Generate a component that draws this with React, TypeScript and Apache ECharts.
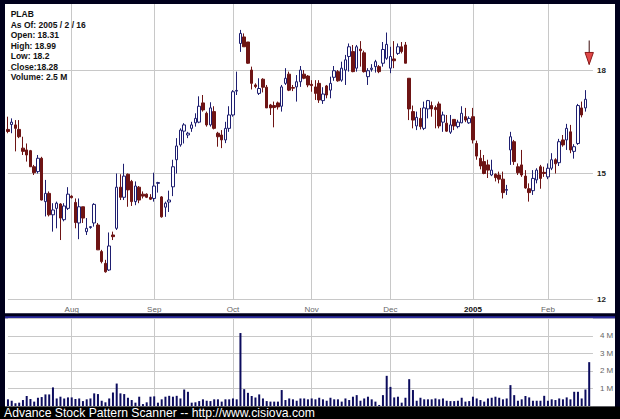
import React, { useEffect, useRef } from 'react';
import * as echarts from 'echarts';

// ---------- data ----------
const ticker = 'PLAB';
const startDate = '2004-07-08';
const endDate = '2005-02-17';
const holidays = ['2004-09-06', '2004-11-25', '2004-12-24', '2005-01-17'];
const monthNames = ['Jan', 'Feb', 'Mar', 'Apr', 'May', 'Jun', 'Jul', 'Aug', 'Sep', 'Oct', 'Nov', 'Dec'];

const opens = [
  16.22, 16.36, 16.35, 16.22, 15.69, 15.64, 15.62, 15.18, 15.05, 15.41,
  14.27, 14.48, 13.94, 14.10, 14.21, 13.82, 14.10,
  14.41, 14.25, 13.74, 14.14, 13.53, 13.63, 13.74, 13.69, 13.06, 12.79,
  12.64, 13.45, 13.61, 14.64, 14.38, 14.98, 14.79, 14.27, 14.64, 14.46,
  14.46, 14.38, 14.35, 14.74, 14.39, 14.13, 14.26, 14.65, 15.37, 15.78,
  16.17, 16.06, 16.25, 16.41, 16.43, 17.00, 16.69, 16.35, 16.74, 16.11,
  16.06, 15.92, 16.25, 16.64, 17.36, 18.89, 19.11, 18.94, 18.02, 17.55,
  17.29, 17.73, 17.48, 16.94, 16.92, 17.00, 16.90, 17.60, 17.89, 17.47,
  17.49, 17.65, 17.89, 17.83, 17.57, 17.49, 17.60, 17.07, 17.52, 17.39,
  17.79, 17.97, 17.70, 18.02, 18.46, 18.62, 18.08, 18.70, 18.58, 17.81,
  18.04, 18.13, 18.13, 18.24, 18.40, 18.08, 18.38, 18.56, 18.78, 18.84,
  17.76, 16.74, 16.32, 16.54, 16.25, 16.82, 16.92, 16.86, 16.97, 16.43,
  16.40, 16.14, 16.51, 16.30, 16.41, 16.59, 16.41, 16.59, 15.82, 15.41,
  15.32, 15.23, 14.96, 14.98, 14.96, 14.85, 14.56, 15.64, 15.87, 15.18,
  15.23, 14.93, 14.60, 14.55, 14.83, 15.18, 15.03, 14.91, 15.14, 15.37,
  15.29, 15.92, 15.92, 16.15, 15.60, 15.82, 16.85, 16.85, 18.31,
];
const highs = [
  16.59, 16.54, 16.49, 16.49, 16.01, 15.82, 15.64, 15.23, 15.50, 15.45,
  14.83, 14.53, 14.23, 14.27, 14.23, 14.23, 14.64,
  14.43, 14.35, 14.35, 14.14, 13.86, 13.66, 14.23, 13.74, 13.10, 12.87,
  13.51, 13.53, 15.00, 14.98, 15.26, 15.00, 14.83, 14.79, 14.67, 14.53,
  14.48, 14.46, 15.02, 14.78, 14.41, 14.27, 14.55, 15.37, 15.97, 16.25,
  16.40, 16.15, 16.44, 16.69, 17.20, 17.24, 16.74, 17.02, 16.90, 16.15,
  16.20, 16.44, 16.90, 17.39, 17.97, 19.35, 19.23, 18.94, 18.13, 17.60,
  17.76, 17.76, 17.55, 16.97, 17.04, 17.04, 17.55, 18.08, 17.97, 17.55,
  17.86, 18.15, 18.02, 17.86, 17.70, 17.70, 17.70, 17.48, 17.55, 17.81,
  18.15, 18.02, 18.29, 18.51, 18.89, 18.84, 18.84, 18.97, 18.65, 18.08,
  18.21, 18.35, 18.18, 18.94, 19.26, 18.78, 18.97, 18.89, 18.94, 18.94,
  17.76, 16.92, 16.74, 16.85, 17.04, 17.09, 17.04, 16.92, 17.04, 16.74,
  16.64, 16.64, 16.51, 16.50, 16.90, 16.85, 16.60, 16.85, 15.90, 15.64,
  15.50, 15.37, 15.37, 15.00, 15.05, 15.05, 14.70, 16.15, 15.92, 15.27,
  15.64, 15.09, 14.74, 15.09, 15.14, 15.23, 15.18, 15.27, 15.55, 15.41,
  15.95, 16.06, 16.38, 16.35, 15.80, 16.97, 17.04, 17.39, 18.99,
];
const lows = [
  16.11, 16.11, 15.60, 15.97, 15.50, 15.32, 15.18, 14.96, 15.00, 14.30,
  13.90, 13.90, 13.53, 13.61, 13.33, 13.78, 14.06,
  14.35, 13.61, 13.35, 13.74, 13.45, 13.60, 13.65, 13.10, 12.79, 12.58,
  12.62, 13.33, 13.57, 14.31, 14.31, 14.14, 14.16, 14.18, 14.23, 14.35,
  14.36, 14.31, 14.27, 14.50, 13.87, 13.89, 14.01, 14.41, 15.00, 15.73,
  15.82, 15.97, 16.15, 16.30, 16.40, 16.74, 16.30, 16.30, 16.22, 15.73,
  15.69, 15.83, 16.15, 16.59, 17.24, 18.61, 18.78, 18.22, 17.41, 17.45,
  17.24, 17.32, 16.85, 16.64, 16.28, 16.80, 16.74, 17.55, 17.36, 17.36,
  17.04, 17.49, 17.73, 17.48, 17.34, 17.09, 17.00, 16.97, 17.14, 17.14,
  17.68, 17.65, 17.65, 17.55, 17.97, 17.95, 17.97, 18.13, 17.94, 17.55,
  17.97, 17.94, 17.92, 18.13, 18.35, 17.92, 18.08, 18.51, 18.56, 18.24,
  16.49, 16.25, 16.20, 16.22, 16.20, 16.54, 16.59, 16.25, 16.25, 16.15,
  16.15, 16.09, 16.20, 16.25, 16.40, 16.43, 16.38, 15.82, 15.37, 15.11,
  14.98, 14.88, 14.93, 14.79, 14.74, 14.35, 14.44, 15.23, 15.23, 14.96,
  14.91, 14.60, 14.27, 14.44, 14.74, 14.60, 14.91, 14.85, 15.09, 15.00,
  15.20, 15.73, 15.64, 15.55, 15.40, 15.78, 16.57, 16.74, 18.20,
];
const closes = [
  16.16, 16.43, 16.25, 16.01, 15.60, 15.50, 15.18, 15.02, 15.41, 14.31,
  14.48, 13.94, 14.06, 14.23, 13.86, 14.16, 14.46,
  14.37, 13.75, 14.14, 13.86, 13.61, 13.65, 14.20, 13.10, 12.83, 12.60,
  13.19, 13.41, 14.64, 14.38, 14.93, 14.57, 14.27, 14.67, 14.31, 14.41,
  14.38, 14.33, 14.67, 14.76, 13.89, 14.23, 14.31, 15.18, 15.75, 16.20,
  16.35, 16.11, 16.35, 16.54, 16.90, 16.79, 16.35, 16.85, 16.25, 16.01,
  15.92, 16.25, 16.64, 17.34, 17.38, 19.23, 18.78, 18.24, 17.60, 17.50,
  17.44, 17.48, 16.85, 16.85, 16.86, 16.88, 17.49, 17.76, 17.39, 17.45,
  17.65, 18.02, 17.76, 17.55, 17.53, 17.29, 17.09, 17.27, 17.24, 17.60,
  18.00, 17.68, 18.08, 18.35, 18.78, 17.97, 18.78, 18.65, 17.97, 18.00,
  18.08, 18.29, 17.97, 18.69, 18.86, 18.46, 18.32, 18.78, 18.62, 18.24,
  16.82, 16.49, 16.57, 16.30, 16.85, 17.07, 16.82, 16.80, 16.32, 16.64,
  16.17, 16.35, 16.32, 16.43, 16.69, 16.49, 16.54, 15.92, 15.47, 15.20,
  15.00, 15.09, 15.09, 14.89, 14.85, 14.50, 14.58, 16.01, 15.32, 15.02,
  14.96, 14.62, 14.50, 14.87, 15.09, 14.87, 15.00, 15.14, 15.37, 15.26,
  15.87, 15.78, 16.25, 15.64, 15.73, 16.92, 16.64, 17.11, 18.28,
];
// volume in millions of shares
const volumesM = [
  0.38, 0.30, 0.15, 0.19, 0.34, 0.57, 0.40, 0.25, 0.47, 0.51,
  0.66, 0.66, 1.06, 0.43, 0.53, 0.43, 0.49,
  0.49, 0.40, 0.43, 0.28, 0.38, 0.43, 0.72, 0.68, 0.30, 0.21,
  0.43, 0.77, 1.28, 0.72, 0.68, 0.47, 0.34, 0.19, 0.53, 0.11,
  0.21, 0.53, 0.55, 0.19, 0.38, 0.53, 0.58, 0.53, 0.58, 0.43,
  0.94, 0.81, 0.19, 0.21, 0.28, 0.38, 0.30, 0.28, 0.38, 0.38,
  0.25, 0.38, 0.38, 0.43, 0.38, 4.16, 0.96, 0.75, 0.57, 0.49,
  0.66, 0.43, 0.28, 0.25, 0.25, 0.25, 0.91, 0.34, 0.43, 0.38,
  0.30, 0.43, 0.43, 0.38, 0.43, 0.38, 0.47, 0.38, 0.30, 0.47,
  0.38, 0.38, 0.25, 0.43, 0.34, 0.53, 0.62, 0.30, 0.43, 0.53,
  0.38, 0.25, 0.06, 0.62, 1.72, 1.09, 0.49, 0.53, 0.19, 0.47,
  1.53, 0.91, 0.30, 0.47, 0.38, 0.38, 0.38, 0.43, 0.38, 0.43,
  0.30, 0.28, 0.28, 0.30, 0.47, 0.25, 0.28, 0.53, 0.43, 0.34,
  0.25, 0.43, 0.47, 0.53, 0.47, 0.38, 0.43, 1.19, 0.62, 0.30,
  0.38, 0.57, 0.49, 0.30, 0.30, 0.30, 0.58, 0.30, 0.38, 0.34,
  0.43, 0.38, 0.49, 0.38, 0.81, 0.81, 0.43, 0.94, 2.5,
];
const signalDates = ['2005-02-16'];
const priceTicks = [12, 15, 18];
const volumeTicksM = [1, 2, 3, 4];
const footerText = 'Advance Stock Pattern Scanner -- http://www.cisiova.com';

// ---------- helpers ----------
function tradingDays(start: string, end: string, hol: string[]): string[] {
  const out: string[] = [];
  const d = new Date(start + 'T00:00:00Z');
  const e = new Date(end + 'T00:00:00Z');
  while (d <= e) {
    const wd = d.getUTCDay();
    const s = d.toISOString().slice(0, 10);
    if (wd !== 0 && wd !== 6 && hol.indexOf(s) < 0) out.push(s);
    d.setUTCDate(d.getUTCDate() + 1);
  }
  return out;
}

const dates = tradingDays(startDate, endDate, holidays);
const isMonthStart = (i: number) =>
  i > 0 && dates[i].slice(5, 7) !== dates[i - 1].slice(5, 7);

const FONT = 'Arial, "Liberation Sans", Helvetica, sans-serif';
const GRID_LEFT = 7.95;
const GRID_W = 585;

export default function App() {
  const ref = useRef<HTMLDivElement>(null);
  useEffect(() => {
    const chart = echarts.init(ref.current!, null, { renderer: 'svg' });

    const candleData = dates.map((d, i) => {
      if (i >= opens.length || signalDates.indexOf(d) >= 0) return '-';
      return [opens[i], closes[i], lows[i], highs[i]];
    });
    const volData = dates.map((_, i) => (i < volumesM.length ? volumesM[i] * 1e6 : '-'));
    const signalData = signalDates.map((d) => {
      const i = dates.indexOf(d);
      return [i, highs[i], lows[i]];
    });

    const last = opens.length - 1;
    const [yy, mm, dd] = dates[last].split('-');
    const infoLines = [
      ticker,
      `As Of: ${yy} / ${Number(mm)} / ${Number(dd)}`,
      `Open: ${opens[last]}`,
      `High: ${highs[last]}`,
      `Low: ${lows[last]}`,
      `Close:${closes[last]}`,
      `Volume: ${volumesM[last]} M`,
    ];

    const gridLineColor = '#c8c8c8';

    const option: any = {
      animation: false,
      backgroundColor: '#00001c',
      textStyle: { fontFamily: FONT },
      graphic: [
        { type: 'rect', z: -10, silent: true, shape: { x: 5, y: 4, width: 610, height: 309.3 }, style: { fill: '#ffffff' } },
        { type: 'rect', z: -10, silent: true, shape: { x: 5, y: 318.3, width: 610, height: 88.5 }, style: { fill: '#ffffff' } },
        { type: 'rect', z: -10, silent: true, shape: { x: 5, y: 316.3, width: 610, height: 2 }, style: { fill: '#2c2ca0' } },
        { type: 'rect', z: 10, silent: true, shape: { x: 0, y: 406.6, width: 620, height: 12.4 }, style: { fill: '#000000' } },
        {
          type: 'text', z: 11, silent: true, x: 4, y: 413.2,
          style: { text: footerText, fill: '#ffffff', font: `12.2px ${FONT}`, verticalAlign: 'middle' },
        },
        ...infoLines.map((t, i) => ({
          type: 'text', z: 11, silent: true, x: 10.7, y: 14 + i * 10.55,
          style: { text: t, fill: '#111111', font: `bold 8.5px ${FONT}`, verticalAlign: 'middle' },
        })),
      ],
      grid: [
        { left: GRID_LEFT, top: 4, width: GRID_W, height: 295.3 },
        { left: GRID_LEFT, top: 318.3, width: GRID_W, height: 87.7 },
      ],
      xAxis: [
        {
          type: 'category', gridIndex: 0, data: dates, boundaryGap: false,
          axisLine: { show: false }, axisTick: { show: false },
          axisLabel: {
            interval: (i: number) => isMonthStart(i),
            margin: 6, fontSize: 8, color: '#666666', fontFamily: FONT,
            formatter: (v: string) => {
              const m = Number(v.slice(5, 7)) - 1;
              return m === 0 ? `{y|${v.slice(0, 4)}}` : monthNames[m];
            },
            rich: { y: { fontSize: 8, fontWeight: 'bold', color: '#111111', fontFamily: FONT } },
          },
          splitLine: { show: true, interval: (i: number) => isMonthStart(i), lineStyle: { color: gridLineColor, width: 1 } },
        },
        {
          type: 'category', gridIndex: 1, data: dates, boundaryGap: false,
          axisLine: { show: false }, axisTick: { show: false }, axisLabel: { show: false },
          splitLine: { show: true, interval: (i: number) => isMonthStart(i), lineStyle: { color: gridLineColor, width: 1 } },
        },
      ],
      yAxis: [
        {
          type: 'log', gridIndex: 0, min: 12, max: 20.26,
          axisLine: { show: false }, axisTick: { show: false }, axisLabel: { show: false },
          splitLine: { show: false },
        },
        {
          type: 'value', gridIndex: 1, min: 0, max: 5e6, interval: 1e6, position: 'right',
          axisLine: { show: false }, axisTick: { show: false },
          axisLabel: {
            margin: 7, fontSize: 8, color: '#666666', fontFamily: FONT,
            formatter: (v: number) => (volumeTicksM.indexOf(v / 1e6) >= 0 ? `${v / 1e6} M` : ''),
            padding: [0, 0, 3, 0],
          },
          splitLine: { show: true, lineStyle: { color: gridLineColor, width: 1 } },
        },
      ],
      series: [
        {
          type: 'candlestick', xAxisIndex: 0, yAxisIndex: 0, data: candleData,
          barWidth: 3,
          itemStyle: {
            color: '#ffffff', color0: '#6e1414',
            borderColor: '#1e1e70', borderColor0: '#6e1414', borderWidth: 1,
          },
          markLine: {
            silent: true, symbol: 'none', z: 1, animation: false,
            lineStyle: { color: gridLineColor, width: 1, type: 'solid' },
            label: {
              position: 'end', distance: 4, formatter: '{c}',
              color: '#222222', fontSize: 8, fontWeight: 'bold', fontFamily: FONT,
            },
            emphasis: { disabled: true },
            data: priceTicks.map((v) => ({ yAxis: v })),
          },
        },
        {
          type: 'custom', xAxisIndex: 0, yAxisIndex: 0, data: signalData, z: 5,
          renderItem: (params: any, api: any) => {
            const top = api.coord([api.value(0), api.value(1)]);
            const bot = api.coord([api.value(0), api.value(2)]);
            const x = top[0];
            return {
              type: 'group',
              children: [
                { type: 'line', shape: { x1: x, y1: top[1], x2: x, y2: bot[1] }, style: { stroke: '#3a0a0a', lineWidth: 1 } },
                {
                  type: 'polygon',
                  shape: { points: [[x - 4.2, bot[1] - 12], [x + 4.2, bot[1] - 12], [x, bot[1]]] },
                  style: { fill: '#e04848', stroke: '#8a1a1a', lineWidth: 1 },
                },
              ],
            };
          },
        },
        {
          type: 'bar', xAxisIndex: 1, yAxisIndex: 1, data: volData,
          barWidth: 2, itemStyle: { color: '#0c0c5e' },
        },
      ],
    };

    chart.setOption(option);
    return () => chart.dispose();
  }, []);

  return <div ref={ref} style={{ position: 'fixed', left: 0, top: 0, width: 620, height: 419 }} />;
}
